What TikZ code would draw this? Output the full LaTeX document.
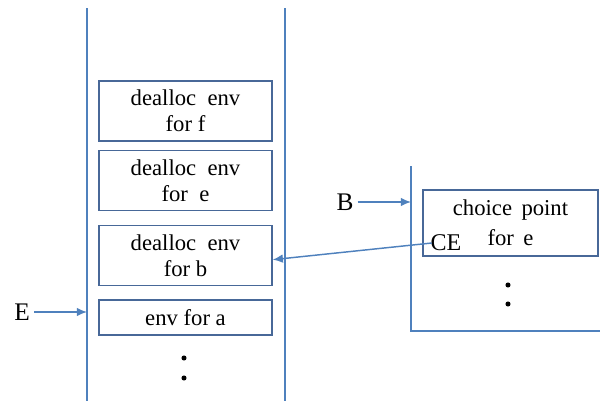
\documentclass[tikz,border=0pt]{standalone}
\usepackage{fontspec}
\setmainfont{Liberation Serif}
\usetikzlibrary{positioning,arrows.meta}

\definecolor{lineblue}{RGB}{79,129,189}
\definecolor{boxblue}{RGB}{72,104,152}

\begin{document}
\begin{tikzpicture}[
  x=0.75pt, y=-0.75pt,
  node distance=6pt,
  frame/.style={draw=boxblue, line width=1pt, align=center, font=\fontsize{17}{19.5}\selectfont,
                minimum width=129.75pt, minimum height=45pt, inner sep=0pt},
  wall/.style={draw=lineblue, line width=1.1pt},
  arr/.style={-{Latex[length=2.7mm,width=2.3mm]}, draw=lineblue, line width=1.1pt},
  lab/.style={font=\fontsize{19}{21}\selectfont, inner sep=3pt},
  dot/.style={fill=black, circle, inner sep=0pt, minimum size=3.8pt}
]
\useasboundingbox (0,0) rectangle (600,401);
% stack
\coordinate (stl) at (87,8);
\coordinate (sbl) at (87,401);
\coordinate (str) at (285,8);
\coordinate (sbr) at (285,401);
\draw[wall] (stl) -- (sbl);
\draw[wall] (str) -- (sbr);
\node[frame] (envf) at (185.5,111) {dealloc\ \ env\\for f};
\node[frame, below=of envf] (enve) {dealloc\ \ env\\for\ \ e};
\node[frame, below=10.5pt of enve] (envb) {dealloc\ \ env\\for b};
\node[frame, below=9.75pt of envb, minimum height=26.25pt] (enva) {env for a};
\node[dot] (sd1) at (184,358) {};
\node[dot] (sd2) at (184,378) {};
\node[lab] (E) at (22,312) {E};
\draw[arr] (E) -- (E -| stl);
% choice point stack
\coordinate (ctl) at (411,166);
\coordinate (cbl) at (411,331);
\coordinate (cbr) at (600,331);
\draw[wall] (ctl) -- (cbl) -- (cbr);
\node[frame, minimum width=131.25pt, minimum height=49.5pt, font=\fontsize{17}{22.5}\selectfont]
  (cp) at (510.5,223) {choice\ \,point\\for\ \,e};
\node[dot] (cd1) at (508,285) {};
\node[dot] (cd2) at (508,304) {};
\node[lab] (B) at (345,202) {B};
\draw[arr] (B) -- (B -| ctl);
\node[font=\fontsize{18}{20}\selectfont, inner sep=0pt] (CE) at (446,243) {CE};
\draw[arr] ([xshift=1pt]CE.west) -- ([yshift=-3pt]envb.east);
\end{tikzpicture}
\end{document}
